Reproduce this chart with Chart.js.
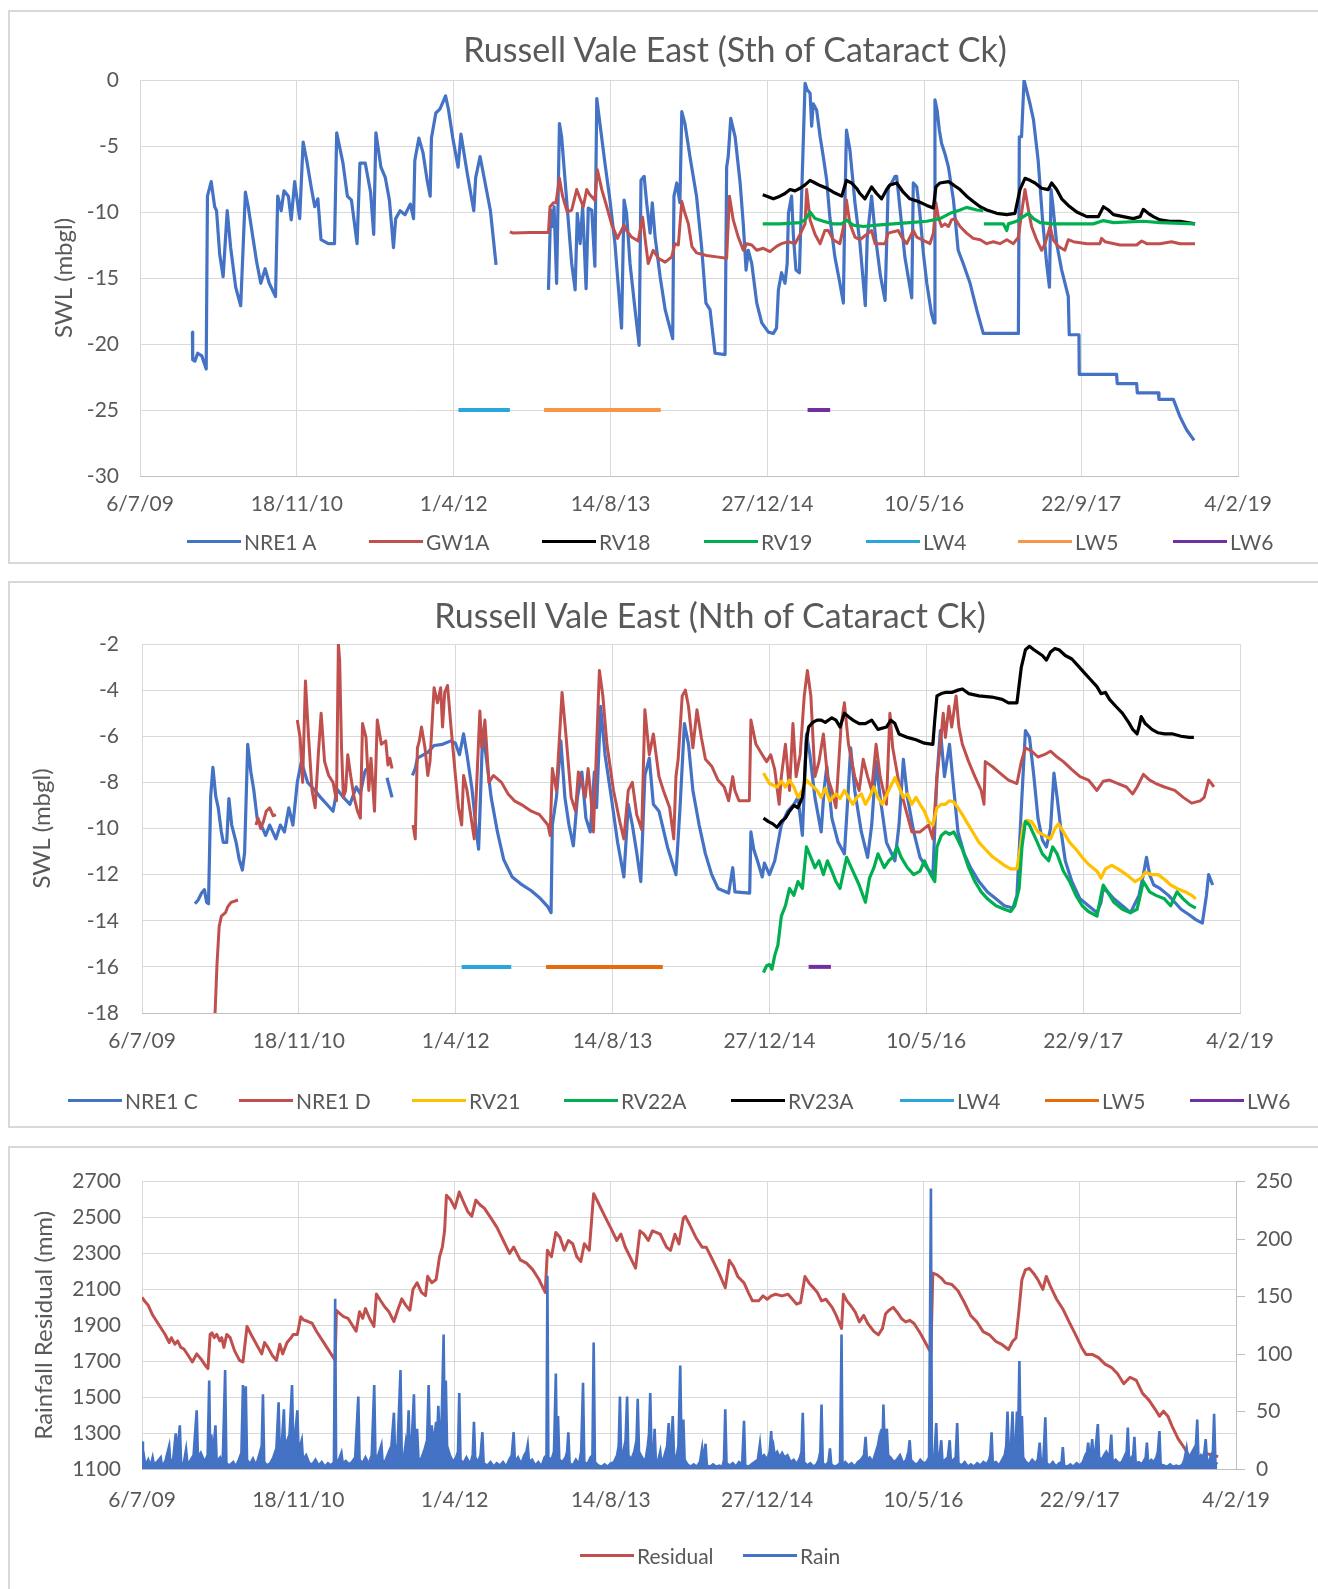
<!DOCTYPE html>
<html><head><meta charset="utf-8">
<script src="https://cdn.jsdelivr.net/npm/chart.js@4.4.1/dist/chart.umd.min.js"></script>
<style>
html,body{margin:0;padding:0;background:#fff;}
body{width:1318px;height:1589px;position:relative;overflow:hidden;font-family:Lato,'Open Sans',sans-serif;color:#595959;}
.box{position:absolute;border:2px solid #d9d9d9;box-sizing:border-box;background:#fff;}
canvas{position:absolute;left:0;}
.title{position:absolute;transform:translate(-50%,-50%);white-space:nowrap;font-size:34px;color:#595959;}
.leg{position:absolute;display:flex;align-items:center;height:24px;font-size:21px;white-space:nowrap;color:#595959;}
.leg i{display:inline-block;width:54px;height:3px;margin-right:3px;}
</style></head><body>
<div class="box" style="left:8px;top:10px;width:1400px;height:554px"></div>
<div class="box" style="left:8px;top:581px;width:1400px;height:547px"></div>
<div class="box" style="left:8px;top:1146px;width:1400px;height:500px"></div>
<canvas id="c1" width="1318" height="560" style="top:0px"></canvas>
<canvas id="c2" width="1318" height="540" style="top:583px"></canvas>
<canvas id="c3" width="1318" height="441" style="top:1148px"></canvas>
<div class="title" style="left:735px;top:48px">Russell Vale East (Sth of Cataract Ck)</div>
<div class="title" style="left:710px;top:614px">Russell Vale East (Nth of Cataract Ck)</div>
<div id="legends"></div>
<script>
// ---------- axes / tick labels ----------
const X_TICKS = [40000,40500,41000,41500,42000,42500,43000,43500];
const X_TICK_LABELS = ['6/7/09','18/11/10','1/4/12','14/8/13','27/12/14','10/5/16','22/9/17','4/2/19'];
const Y1_RANGE = [-30, 0, 5];
const Y2_RANGE = [-18, -2, 2];
const Y3_RANGE = [1100, 2700, 200];
const Y3R_RANGE = [0, 250, 50];

// ---------- Panel 1 : Sth of Cataract Ck  [Excel day serial, SWL mbgl] ----------
const NRE1A = [[40167,-19.1],[40168,-21.2],[40175,-21.3],[40184,-20.7],[40197,-20.9],[40211,-21.9],[40215,-8.8],[40227,-7.7],[40238,-9.6],[40244,-9.9],[40254,-13.2],[40265,-14.9],[40278,-9.9],[40289,-12.7],[40305,-15.7],[40321,-17.1],[40336,-8.5],[40345,-9.6],[40359,-11.8],[40372,-13.8],[40385,-15.4],[40399,-14.3],[40412,-15.4],[40432,-16.4],[40439,-8.8],[40450,-9.9],[40459,-8.4],[40473,-8.8],[40482,-10.6],[40493,-7.7],[40509,-10.5],[40520,-4.7],[40533,-6.3],[40547,-8.3],[40557,-9.6],[40567,-9.0],[40577,-12.1],[40600,-12.4],[40620,-12.4],[40627,-4.0],[40647,-6.3],[40661,-8.8],[40674,-9.1],[40692,-12.4],[40701,-6.3],[40718,-6.3],[40735,-8.5],[40745,-11.7],[40752,-4.0],[40768,-6.6],[40782,-7.4],[40795,-9.1],[40808,-12.7],[40815,-10.5],[40829,-9.9],[40845,-10.2],[40862,-9.4],[40872,-10.5],[40876,-6.1],[40889,-4.4],[40902,-5.5],[40916,-7.7],[40925,-8.8],[40929,-4.4],[40943,-2.5],[40956,-2.2],[40966,-1.65],[40974,-1.2],[40983,-2.2],[40997,-4.4],[41014,-6.6],[41023,-4.1],[41044,-7.2],[41064,-9.9],[41070,-7.4],[41084,-5.8],[41097,-7.4],[41117,-9.9],[41135,-14.0],[41200,null],
[41302,-15.9],[41309,-9.85],[41315,-11.1],[41320,-9.6],[41328,-15.4],[41337,-3.3],[41344,-4.3],[41355,-7.6],[41365,-10.6],[41376,-13.9],[41387,-15.9],[41394,-10.1],[41403,-12.4],[41411,-9.6],[41422,-15.8],[41429,-9.7],[41440,-9.85],[41450,-14.1],[41456,-1.4],[41466,-3.3],[41482,-6.3],[41498,-9.1],[41514,-12.4],[41535,-18.8],[41543,-9.1],[41551,-10.1],[41562,-13.9],[41578,-17.4],[41591,-20.1],[41597,-7.6],[41607,-7.3],[41615,-9.3],[41626,-11.6],[41633,-9.3],[41642,-11.9],[41658,-14.9],[41674,-17.4],[41698,-19.6],[41702,-8.8],[41711,-7.8],[41721,-9.3],[41727,-2.4],[41737,-3.3],[41753,-5.8],[41774,-8.8],[41790,-12.6],[41804,-16.9],[41817,-17.4],[41833,-20.7],[41865,-20.8],[41870,-6.6],[41875,-5.8],[41883,-2.9],[41897,-4.3],[41913,-7.8],[41923,-10.9],[41932,-14.4],[41939,-12.9],[41950,-13.9],[41966,-16.9],[41982,-18.4],[42003,-19.1],[42019,-19.2],[42029,-18.8],[42035,-15.9],[42045,-14.6],[42056,-15.4],[42063,-13.9],[42067,-10.1],[42077,-8.8],[42083,-11.9],[42091,-14.4],[42102,-14.6],[42109,-8.8],[42120,-0.25],[42127,-0.75],[42136,-1.0],[42141,-3.5],[42146,-1.8],[42157,-2.3],[42168,-4.3],[42178,-5.8],[42189,-7.6],[42199,-10.4],[42215,-13.4],[42231,-15.4],[42242,-16.9],[42247,-9.3],[42252,-3.8],[42263,-5.3],[42279,-9.3],[42295,-12.4],[42312,-17.1],[42318,-12.0],[42332,-8.8],[42345,-12.0],[42360,-14.8],[42375,-16.7],[42385,-8.1],[42396,-7.8],[42407,-7.3],[42412,-7.3],[42423,-9.85],[42438,-13.4],[42460,-16.5],[42465,-7.8],[42476,-8.1],[42486,-10.1],[42497,-13.1],[42508,-15.4],[42523,-17.7],[42531,-18.4],[42534,-1.5],[42541,-2.3],[42548,-3.8],[42555,-4.8],[42566,-5.6],[42577,-6.6],[42593,-9.1],[42608,-12.9],[42624,-13.9],[42646,-15.4],[42667,-17.4],[42688,-19.2],[42800,-19.2],[42803,-4.3],[42810,-4.3],[42818,0],[42826,-0.75],[42837,-1.8],[42848,-3.0],[42863,-6.1],[42877,-10.6],[42890,-13.9],[42899,-15.7],[42904,-8.3],[42909,-9.3],[42922,-12.4],[42938,-14.4],[42959,-16.4],[42962,-19.3],[42993,-19.3],[42994,-22.3],[43113,-22.3],[43115,-23.0],[43177,-23.0],[43179,-23.7],[43246,-23.7],[43248,-24.2],[43294,-24.2],[43315,-25.5],[43336,-26.5],[43360,-27.3]];

const GW1A = [[41179,-11.5],[41190,-11.6],[41243,-11.55],[41302,-11.55],[41307,-9.6],[41318,-9.3],[41326,-9.3],[41337,-7.45],[41347,-8.8],[41362,-10.0],[41376,-9.85],[41392,-8.3],[41403,-9.0],[41413,-9.6],[41424,-8.3],[41434,-8.7],[41450,-9.1],[41458,-6.8],[41472,-8.3],[41488,-9.6],[41503,-10.9],[41522,-12.0],[41530,-11.6],[41543,-11.0],[41551,-11.4],[41567,-11.9],[41588,-12.2],[41602,-10.4],[41612,-12.4],[41620,-13.9],[41636,-12.9],[41652,-13.5],[41674,-13.8],[41695,-13.4],[41705,-12.4],[41716,-12.5],[41727,-9.2],[41737,-10.1],[41748,-10.9],[41759,-12.6],[41774,-13.1],[41806,-13.3],[41838,-13.4],[41870,-13.5],[41879,-8.8],[41891,-10.6],[41907,-11.9],[41923,-12.9],[41934,-12.4],[41950,-12.5],[41966,-12.9],[41987,-12.75],[42008,-13.0],[42029,-12.6],[42045,-12.4],[42067,-12.25],[42088,-12.4],[42104,-11.7],[42120,-10.9],[42125,-8.3],[42136,-10.6],[42152,-11.7],[42168,-12.4],[42183,-11.4],[42194,-11.4],[42210,-12.1],[42231,-12.4],[42247,-10.6],[42252,-9.1],[42263,-10.9],[42279,-11.9],[42295,-12.1],[42316,-11.7],[42332,-11.4],[42343,-12.4],[42375,-12.4],[42385,-11.6],[42417,-11.4],[42428,-11.9],[42444,-12.4],[42465,-11.4],[42476,-11.9],[42492,-12.1],[42518,-12.4],[42529,-11.6],[42537,-9.3],[42545,-10.4],[42555,-11.1],[42566,-10.9],[42577,-11.1],[42587,-10.6],[42598,-10.5],[42614,-11.1],[42635,-11.6],[42656,-12.0],[42678,-12.1],[42699,-12.4],[42720,-12.25],[42741,-12.4],[42763,-12.1],[42784,-12.4],[42800,-11.9],[42810,-10.1],[42821,-8.3],[42832,-9.85],[42842,-11.1],[42858,-12.1],[42874,-12.9],[42885,-12.4],[42901,-11.1],[42911,-12.1],[42927,-12.6],[42948,-12.9],[42959,-12.1],[42975,-12.25],[43018,-12.4],[43060,-12.4],[43065,-12.0],[43076,-12.25],[43124,-12.5],[43177,-12.5],[43193,-12.2],[43209,-12.4],[43251,-12.4],[43288,-12.25],[43315,-12.4],[43363,-12.4]];

const RV18 = [[41985,-8.7],[41998,-8.8],[42019,-9.0],[42040,-8.8],[42056,-8.6],[42072,-8.3],[42088,-8.4],[42104,-8.2],[42120,-7.95],[42136,-7.6],[42152,-7.8],[42168,-8.0],[42189,-8.2],[42210,-8.5],[42237,-8.8],[42252,-7.6],[42268,-7.8],[42284,-8.2],[42295,-8.6],[42311,-9.0],[42332,-8.1],[42348,-8.6],[42364,-9.0],[42380,-8.3],[42391,-7.95],[42412,-7.8],[42433,-8.5],[42454,-9.0],[42481,-9.2],[42508,-9.5],[42529,-9.7],[42537,-8.1],[42550,-7.8],[42577,-7.7],[42593,-7.95],[42614,-8.3],[42635,-8.8],[42656,-9.2],[42678,-9.6],[42699,-9.85],[42731,-10.1],[42763,-10.2],[42789,-10.1],[42805,-8.3],[42821,-7.45],[42837,-7.6],[42853,-7.8],[42874,-8.2],[42895,-8.3],[42906,-7.8],[42922,-8.3],[42938,-9.0],[42959,-9.5],[42986,-10.0],[43018,-10.35],[43055,-10.35],[43071,-9.6],[43087,-9.85],[43103,-10.2],[43134,-10.35],[43166,-10.5],[43188,-10.35],[43198,-9.8],[43214,-10.1],[43230,-10.35],[43251,-10.6],[43283,-10.7],[43315,-10.7],[43363,-10.9]];

const RV19 = [[41985,-10.9],[42040,-10.9],[42104,-10.8],[42120,-10.6],[42136,-10.0],[42152,-10.5],[42178,-10.7],[42210,-10.9],[42237,-10.9],[42252,-10.6],[42274,-11.0],[42306,-11.1],[42348,-11.0],[42401,-10.9],[42454,-10.8],[42508,-10.7],[42550,-10.5],[42582,-10.1],[42614,-9.85],[42635,-9.65],[42667,-9.85],[42688,-9.9],[42689,null],[42690,-10.9],[42752,-10.9],[42763,-11.4],[42768,-10.9],[42794,-10.7],[42816,-10.35],[42832,-10.1],[42848,-10.5],[42869,-10.8],[42911,-10.9],[42986,-10.9],[43039,-10.9],[43071,-10.65],[43103,-10.8],[43198,-10.7],[43251,-10.8],[43363,-10.9]];

const LW4_S = [[41015,-25],[41179,-25]];
const LW5_S = [[41288,-25],[41660,-25]];
const LW6_S = [[42128,-25],[42200,-25]];

// ---------- Panel 2 : Nth of Cataract Ck ----------
const NRE1C = [[40169,-13.26],[40179,-13.1],[40190,-12.8],[40199,-12.65],[40206,-13.2],[40212,-13.26],[40219,-8.6],[40226,-7.35],[40235,-8.6],[40243,-9.1],[40253,-10.15],[40259,-10.6],[40270,-10.6],[40277,-8.7],[40286,-9.85],[40300,-10.6],[40310,-11.35],[40320,-11.8],[40327,-11.05],[40337,-6.35],[40347,-7.55],[40356,-8.3],[40367,-9.55],[40380,-9.85],[40394,-10.3],[40407,-9.85],[40427,-10.45],[40441,-9.85],[40454,-10.15],[40468,-9.1],[40481,-9.85],[40495,-8.0],[40508,-7.1],[40528,-8.0],[40548,-8.3],[40569,-8.65],[40589,-8.95],[40609,-9.25],[40622,-8.3],[40642,-8.65],[40663,-8.95],[40683,-8.2],[40696,-8.5],[40710,-7.55],[40716,-7.4],[40740,null],[40781,-7.8],[40797,-8.65],[40830,null],
[40862,-7.7],[40871,-7.4],[40878,-6.95],[40898,-6.8],[40911,-6.7],[40931,-6.4],[40958,-6.35],[40985,-6.2],[40999,-6.3],[41012,-6.8],[41025,-5.9],[41036,-6.8],[41052,-8.3],[41066,-10.15],[41073,-10.9],[41079,-8.65],[41086,-5.75],[41099,-7.1],[41113,-8.65],[41133,-10.15],[41153,-11.35],[41180,-12.1],[41207,-12.4],[41241,-12.7],[41267,-13.0],[41294,-13.4],[41304,-13.65],[41308,-9.85],[41321,-8.65],[41335,-6.2],[41348,-8.65],[41361,-9.85],[41375,-10.75],[41388,-8.65],[41402,-7.55],[41415,-9.55],[41429,-10.15],[41442,-7.55],[41449,-9.1],[41462,-4.7],[41476,-6.8],[41496,-8.65],[41516,-10.6],[41536,-12.1],[41550,-8.95],[41563,-9.85],[41577,-11.05],[41590,-12.3],[41603,-7.7],[41617,-6.95],[41630,-8.95],
[41648,-9.25],[41675,-10.8],[41702,-12.0],[41715,-9.1],[41729,-5.45],[41742,-6.35],[41756,-8.35],[41776,-9.85],[41796,-11.1],[41816,-12.0],[41836,-12.6],[41870,-12.8],[41883,-11.7],[41890,-12.75],[41937,-12.8],[41941,-10.15],[41950,-10.9],[41964,-11.5],[41977,-12.1],[41984,-11.5],[42000,-12.0],[42017,-11.4],[42038,-9.85],[42058,-9.25],[42078,-8.95],[42091,-8.65],[42105,-10.3],[42118,-5.9],[42129,-6.8],[42145,-8.65],[42165,-10.15],[42174,-8.35],[42183,-7.3],[42199,-9.55],[42219,-10.6],[42239,-11.1],[42250,-8.65],[42259,-6.5],[42272,-8.35],[42293,-10.15],[42313,-11.25],[42326,-9.85],[42340,-7.1],[42353,-8.65],[42373,-10.6],[42400,-11.4],[42413,-9.85],[42427,-7.0],[42440,-8.65],[42460,-10.15],[42480,-11.25],[42501,-11.7],[42521,-12.0],[42534,-7.75],[42545,-5.75],[42558,-7.75],[42574,-6.35],[42588,-8.35],[42601,-10.15],[42621,-11.1],[42641,-11.7],[42668,-12.3],[42695,-12.75],[42722,-13.05],[42749,-13.35],[42776,-13.45],[42789,-12.9],[42803,-9.1],[42816,-5.75],[42829,-6.05],[42843,-7.75],[42856,-9.55],[42870,-10.5],[42883,-10.8],[42896,-10.0],[42907,-7.6],[42917,-8.65],[42930,-10.15],[42943,-11.4],[42964,-12.3],[42990,-13.05],[43017,-13.35],[43044,-13.65],[43057,-13.2],[43064,-12.6],[43078,-12.75],[43098,-13.05],[43125,-13.35],[43151,-13.65],[43178,-12.9],[43192,-12.0],[43202,-11.25],[43212,-12.0],[43225,-12.45],[43245,-12.6],[43272,-12.9],[43292,-13.2],[43312,-13.5],[43339,-13.75],[43359,-13.95],[43380,-14.1],[43393,-12.9],[43400,-12.0],[43413,-12.45]];

const NRE1D = [[40230,-19.0],[40239,-15.9],[40246,-14.25],[40253,-13.8],[40266,-13.65],[40273,-13.4],[40284,-13.2],[40306,-13.1],[40330,null],
[40363,-9.85],[40370,-9.55],[40378,-10.0],[40387,-9.7],[40396,-9.25],[40407,-9.1],[40418,-9.45],[40427,-9.4],[40460,null],
[40495,-5.3],[40504,-6.05],[40512,-8.0],[40521,-3.6],[40531,-6.05],[40542,-8.35],[40552,-9.1],[40562,-6.8],[40571,-5.0],[40582,-7.1],[40595,-7.7],[40609,-8.0],[40620,-8.8],[40626,-2.0],[40630,-2.7],[40636,-6.5],[40642,-8.65],[40649,-8.35],[40656,-6.8],[40665,-7.7],[40676,-8.65],[40687,-9.25],[40696,-9.55],[40703,-5.45],[40714,-6.05],[40723,-8.35],[40730,-6.95],[40741,-9.25],[40750,-5.3],[40763,-6.35],[40777,-6.2],[40784,-7.25],[40790,-6.95],[40797,-7.4],[40830,null],
[40864,-9.85],[40871,-10.45],[40878,-6.5],[40884,-6.2],[40891,-5.6],[40902,-6.5],[40911,-7.7],[40918,-7.1],[40931,-3.9],[40942,-4.55],[40952,-3.9],[40958,-5.6],[40965,-4.1],[40974,-3.8],[40985,-5.6],[40999,-7.7],[41009,-9.1],[41019,-9.85],[41025,-7.7],[41036,-8.35],[41046,-9.25],[41059,-10.45],[41066,-8.35],[41077,-4.9],[41083,-6.5],[41093,-5.3],[41106,-8.0],[41120,-7.7],[41133,-7.85],[41146,-8.0],[41167,-8.5],[41187,-8.8],[41214,-9.0],[41241,-9.25],[41267,-9.4],[41294,-9.85],[41301,-10.3],[41308,-7.4],[41321,-8.35],[41339,-4.1],[41352,-6.05],[41368,-8.65],[41382,-9.25],[41391,-7.55],[41402,-8.0],[41413,-8.65],[41422,-7.4],[41431,-8.65],[41439,-10.15],[41458,-3.15],[41469,-4.25],[41482,-6.35],[41503,-8.35],[41523,-9.7],[41536,-10.45],[41550,-8.35],[41563,-8.0],[41577,-9.4],[41593,-10.05],[41603,-4.85],[41617,-6.8],[41630,-5.9],
[41648,-7.75],[41662,-8.35],[41682,-9.1],[41695,-10.45],[41702,-7.75],[41709,-7.0],[41722,-4.25],[41732,-4.0],[41742,-4.7],[41756,-6.5],[41769,-4.85],[41783,-6.05],[41796,-7.0],[41816,-7.3],[41836,-7.9],[41856,-8.2],[41870,-8.8],[41883,-7.75],[41890,-8.35],[41903,-8.8],[41936,-8.8],[41941,-5.3],[41957,-6.35],[41977,-6.8],[41991,-7.1],[42004,-6.8],[42017,-7.45],[42031,-8.95],[42038,-7.75],[42051,-6.35],[42064,-8.35],[42075,-5.45],[42085,-7.75],[42098,-6.8],[42111,-4.25],[42121,-3.15],[42132,-4.25],[42145,-7.75],[42158,-7.1],[42172,-5.9],[42185,-7.75],[42199,-8.35],[42212,-9.1],[42228,-5.6],[42239,-4.55],[42252,-6.35],[42272,-7.75],[42286,-8.35],[42299,-7.0],[42313,-7.75],[42326,-8.35],[42340,-6.35],[42353,-7.75],[42373,-8.95],[42384,-5.0],[42393,-6.5],[42413,-8.05],[42433,-9.1],[42454,-10.15],[42480,-10.15],[42507,-9.85],[42521,-10.45],[42534,-7.75],[42545,-6.35],[42554,-5.0],[42561,-6.05],[42572,-4.7],[42581,-5.6],[42595,-4.25],[42604,-5.6],[42615,-6.35],[42635,-7.1],[42655,-7.75],[42675,-8.35],[42684,-8.95],[42688,-7.1],[42709,-7.3],[42735,-7.6],[42762,-7.9],[42789,-8.05],[42803,-7.1],[42816,-6.5],[42836,-6.65],[42856,-6.9],[42876,-6.8],[42896,-6.65],[42917,-6.9],[42937,-7.1],[42964,-7.45],[42990,-7.75],[43017,-7.9],[43044,-8.35],[43064,-7.95],[43084,-7.9],[43111,-8.05],[43138,-8.2],[43158,-8.5],[43172,-8.2],[43192,-7.65],[43212,-7.9],[43232,-8.05],[43259,-8.2],[43292,-8.35],[43319,-8.65],[43346,-8.9],[43373,-8.8],[43386,-8.65],[43400,-7.9],[43409,-8.05],[43417,-8.2]];

const RV21 = [[41981,-7.6],[42000,-8.05],[42024,-8.2],[42038,-7.95],[42051,-8.2],[42064,-7.9],[42078,-8.2],[42091,-8.65],[42105,-8.35],[42118,-7.9],[42132,-8.1],[42152,-8.35],[42165,-8.65],[42178,-8.25],[42192,-8.8],[42212,-8.5],[42225,-8.7],[42239,-8.35],[42252,-8.65],[42266,-8.95],[42279,-8.65],[42293,-8.5],[42306,-8.95],[42319,-8.65],[42333,-8.2],[42346,-8.65],[42360,-8.95],[42380,-8.35],[42400,-7.8],[42413,-8.2],[42427,-8.65],[42440,-8.5],[42454,-8.95],[42467,-8.65],[42480,-8.95],[42494,-9.25],[42507,-9.7],[42521,-9.85],[42534,-9.1],[42548,-8.95],[42561,-8.95],[42574,-8.8],[42588,-8.85],[42601,-9.1],[42615,-9.4],[42628,-9.7],[42648,-10.15],[42668,-10.6],[42688,-10.9],[42709,-11.2],[42729,-11.4],[42749,-11.6],[42769,-11.75],[42789,-11.75],[42800,-10.8],[42809,-9.85],[42819,-9.65],[42836,-9.7],[42856,-10.15],[42876,-10.3],[42896,-10.45],[42910,-10.0],[42921,-9.8],[42937,-10.15],[42957,-10.6],[42977,-10.9],[42997,-11.25],[43017,-11.55],[43044,-11.85],[43057,-12.15],[43071,-11.75],[43091,-11.6],[43111,-11.75],[43138,-12.0],[43165,-12.3],[43185,-12.15],[43198,-11.9],[43219,-12.0],[43239,-12.0],[43259,-12.2],[43279,-12.45],[43299,-12.6],[43326,-12.75],[43346,-12.9],[43359,-13.05]];

const RV22A = [[41981,-16.25],[41991,-15.95],[42000,-15.9],[42008,-16.1],[42017,-15.5],[42027,-15.05],[42038,-13.8],[42051,-13.35],[42064,-12.6],[42078,-12.9],[42091,-12.3],[42105,-12.6],[42118,-10.8],[42132,-11.25],[42145,-11.7],[42158,-11.4],[42172,-12.0],[42185,-11.4],[42199,-11.85],[42212,-12.3],[42225,-12.6],[42246,-11.25],[42266,-11.85],[42286,-12.45],[42306,-13.2],[42319,-12.15],[42333,-11.7],[42346,-11.1],[42366,-11.7],[42380,-11.4],[42393,-11.25],[42407,-10.8],[42420,-11.25],[42440,-11.7],[42460,-12.0],[42480,-11.85],[42494,-11.4],[42514,-12.0],[42527,-12.3],[42534,-10.8],[42548,-10.3],[42561,-10.15],[42574,-10.25],[42588,-10.15],[42601,-10.5],[42615,-10.9],[42635,-11.7],[42655,-12.3],[42675,-12.75],[42695,-13.05],[42722,-13.35],[42749,-13.5],[42769,-13.6],[42782,-13.35],[42796,-12.6],[42805,-10.8],[42816,-9.7],[42829,-9.85],[42849,-10.45],[42870,-11.1],[42890,-11.4],[42903,-10.8],[42917,-11.1],[42937,-11.85],[42957,-12.3],[42977,-12.9],[42997,-13.35],[43017,-13.6],[43044,-13.8],[43057,-12.9],[43064,-12.45],[43078,-12.75],[43098,-13.2],[43125,-13.5],[43151,-13.65],[43172,-13.5],[43192,-12.3],[43212,-12.75],[43232,-12.9],[43259,-13.05],[43279,-13.35],[43299,-12.75],[43319,-13.05],[43339,-13.3],[43359,-13.45]];

const RV23A = [[41981,-9.55],[41997,-9.7],[42011,-9.8],[42024,-9.95],[42038,-9.7],[42051,-9.55],[42064,-9.25],[42078,-9.0],[42091,-9.1],[42105,-8.65],[42111,-8.05],[42118,-6.2],[42125,-5.6],[42138,-5.4],[42152,-5.3],[42165,-5.3],[42178,-5.4],[42199,-5.2],[42212,-5.3],[42225,-5.6],[42239,-5.0],[42252,-5.15],[42266,-5.3],[42286,-5.45],[42306,-5.45],[42326,-5.3],[42346,-5.7],[42373,-5.6],[42387,-5.3],[42400,-5.45],[42413,-5.9],[42440,-6.05],[42467,-6.15],[42494,-6.3],[42521,-6.35],[42527,-5.3],[42534,-4.25],[42548,-4.15],[42561,-4.1],[42581,-4.1],[42601,-4.0],[42615,-3.95],[42635,-4.15],[42668,-4.25],[42709,-4.3],[42742,-4.4],[42762,-4.55],[42789,-4.55],[42803,-3.0],[42816,-2.25],[42829,-2.1],[42843,-2.25],[42870,-2.5],[42883,-2.7],[42896,-2.35],[42910,-2.2],[42923,-2.25],[42943,-2.5],[42964,-2.65],[42984,-2.95],[43004,-3.25],[43024,-3.55],[43044,-3.85],[43057,-4.15],[43071,-4.1],[43084,-4.4],[43104,-4.7],[43125,-5.0],[43145,-5.4],[43158,-5.7],[43172,-5.9],[43178,-5.6],[43185,-5.15],[43198,-5.45],[43219,-5.7],[43239,-5.85],[43259,-5.9],[43286,-5.9],[43312,-6.0],[43339,-6.05],[43353,-6.05]];

const LW4_N = [[41019,-16],[41177,-16]];
const LW5_N = [[41288,-16],[41660,-16]];
const LW6_N = [[42125,-16],[42196,-16]];

// ---------- Panel 3 : rainfall residual (mm, left) and rain (mm, right) ----------
const RESIDUAL = [[40000,2056],[40007,2038],[40020,2011],[40034,1957],[40054,1903],[40074,1849],[40087,1804],[40094,1831],[40105,1795],[40114,1813],[40124,1777],[40134,1768],[40148,1732],[40161,1696],[40175,1741],[40188,1714],[40202,1678],[40211,1659],[40218,1849],[40224,1858],[40231,1831],[40239,1849],[40249,1813],[40255,1831],[40262,1777],[40271,1849],[40282,1831],[40296,1759],[40312,1705],[40323,1696],[40336,1894],[40349,1849],[40366,1795],[40383,1741],[40392,1804],[40403,1777],[40417,1732],[40430,1705],[40441,1795],[40450,1741],[40464,1804],[40477,1831],[40484,1849],[40497,1849],[40508,1948],[40517,1930],[40531,1921],[40544,1912],[40558,1867],[40578,1813],[40598,1759],[40618,1705],[40622,1984],[40632,1966],[40645,1948],[40659,1939],[40672,1903],[40685,1867],[40696,1975],[40706,1939],[40715,1993],[40728,1939],[40742,1894],[40750,2074],[40763,2038],[40777,2002],[40790,1975],[40806,1921],[40820,1993],[40831,2047],[40844,2011],[40857,1984],[40867,2101],[40880,2137],[40894,2083],[40907,2065],[40914,2173],[40927,2137],[40941,2155],[40952,2282],[40961,2336],[40968,2426],[40974,2624],[40988,2597],[41001,2552],[41015,2642],[41028,2588],[41042,2534],[41055,2507],[41068,2597],[41082,2570],[41095,2552],[41116,2498],[41136,2444],[41156,2372],[41176,2300],[41189,2336],[41210,2264],[41230,2246],[41250,2210],[41270,2155],[41290,2083],[41297,2318],[41310,2282],[41324,2417],[41337,2390],[41351,2318],[41364,2372],[41378,2354],[41391,2282],[41404,2255],[41415,2354],[41431,2318],[41445,2633],[41458,2588],[41478,2516],[41499,2444],[41519,2372],[41532,2408],[41546,2336],[41566,2264],[41579,2218],[41593,2426],[41606,2408],[41620,2372],[41633,2426],[41658,2407],[41678,2335],[41691,2317],[41705,2407],[41718,2353],[41732,2497],[41738,2507],[41752,2461],[41772,2389],[41792,2335],[41805,2335],[41826,2262],[41846,2190],[41866,2109],[41879,2262],[41893,2226],[41906,2172],[41926,2136],[41940,2082],[41953,2036],[41973,2036],[41987,2064],[42000,2045],[42013,2064],[42027,2073],[42047,2064],[42067,2073],[42081,2045],[42094,2018],[42107,2027],[42121,2172],[42134,2136],[42148,2109],[42161,2082],[42174,2036],[42188,2045],[42208,2000],[42221,1955],[42238,1883],[42244,2073],[42255,2036],[42268,2009],[42282,1973],[42295,1919],[42309,1955],[42322,1910],[42342,1865],[42356,1847],[42369,1883],[42379,1964],[42389,1982],[42403,2000],[42416,1973],[42430,1937],[42443,1919],[42456,1928],[42470,1910],[42490,1856],[42510,1792],[42524,1747],[42530,2190],[42544,2181],[42557,2163],[42570,2136],[42591,2127],[42611,2091],[42631,2027],[42651,1955],[42671,1919],[42691,1865],[42711,1847],[42732,1810],[42752,1792],[42772,1765],[42785,1810],[42796,1829],[42805,1973],[42815,2154],[42826,2208],[42839,2217],[42852,2190],[42866,2154],[42882,2100],[42893,2172],[42906,2118],[42926,2045],[42946,1991],[42966,1919],[42987,1847],[43007,1774],[43020,1738],[43040,1738],[43060,1720],[43081,1684],[43101,1666],[43121,1630],[43141,1575],[43161,1611],[43181,1593],[43201,1521],[43221,1485],[43242,1431],[43255,1394],[43268,1422],[43282,1394],[43295,1340],[43315,1268],[43336,1214],[43356,1151],[43369,1114],[43383,1141],[43403,1187],[43423,1178],[43443,1169]];

const RAIN = [[40000,24],[40003,5],[40007,10],[40011,3],[40020,8],[40027,2],[40034,10],[40038,4],[40048,6],[40060,10],[40064,2],[40075,7],[40087,20],[40091,5],[40100,9],[40108,31],[40113,12],[40121,38],[40125,6],[40133,4],[40141,17],[40146,3],[40156,8],[40165,12],[40175,51],[40179,10],[40188,14],[40200,6],[40210,12],[40215,77],[40218,15],[40222,30],[40226,8],[40235,38],[40239,6],[40250,10],[40258,4],[40266,86],[40270,5],[40280,3],[40292,6],[40300,2],[40310,8],[40318,14],[40323,73],[40327,20],[40332,72],[40336,8],[40345,4],[40355,9],[40365,3],[40375,12],[40383,20],[40387,65],[40391,6],[40400,3],[40410,5],[40420,10],[40430,18],[40437,58],[40441,12],[40447,20],[40454,52],[40458,10],[40465,25],[40472,30],[40480,73],[40484,20],[40490,30],[40497,51],[40501,15],[40511,25],[40515,8],[40525,12],[40535,5],[40545,4],[40555,8],[40565,3],[40575,6],[40585,2],[40595,5],[40605,3],[40614,6],[40618,148],[40621,6],[40630,8],[40638,14],[40642,5],[40652,7],[40662,4],[40672,6],[40682,10],[40692,63],[40696,8],[40705,5],[40715,10],[40725,4],[40735,12],[40743,73],[40747,8],[40756,12],[40766,21],[40770,5],[40780,8],[40790,15],[40798,20],[40806,49],[40810,10],[40818,22],[40827,86],[40831,12],[40838,10],[40844,23],[40848,15],[40853,51],[40857,10],[40863,25],[40870,65],[40874,12],[40880,35],[40885,6],[40895,10],[40905,18],[40912,25],[40917,73],[40921,25],[40927,38],[40932,20],[40941,41],[40944,25],[40948,55],[40952,30],[40958,35],[40965,117],[40968,40],[40972,77],[40976,20],[40985,12],[40995,6],[41005,10],[41011,15],[41015,66],[41019,8],[41028,5],[41038,10],[41050,4],[41058,12],[41062,41],[41066,10],[41075,6],[41083,12],[41089,32],[41093,5],[41105,3],[41115,6],[41125,2],[41135,5],[41145,3],[41155,6],[41165,2],[41175,8],[41183,12],[41189,32],[41193,6],[41203,10],[41213,4],[41223,12],[41230,15],[41234,21],[41238,6],[41248,8],[41258,3],[41268,6],[41278,2],[41288,10],[41294,12],[41297,168],[41300,10],[41310,8],[41318,15],[41324,83],[41327,20],[41331,46],[41335,8],[41345,6],[41355,10],[41360,15],[41364,32],[41368,5],[41378,3],[41388,8],[41398,4],[41405,15],[41411,75],[41415,6],[41425,4],[41435,10],[41441,12],[41445,110],[41449,6],[41460,3],[41470,2],[41480,4],[41490,2],[41500,5],[41510,6],[41520,12],[41525,20],[41529,63],[41533,10],[41540,15],[41547,25],[41552,63],[41556,12],[41565,8],[41575,15],[41582,25],[41586,61],[41590,15],[41600,10],[41610,6],[41618,20],[41622,30],[41626,66],[41630,15],[41636,10],[41640,35],[41644,6],[41652,8],[41658,15],[41662,4],[41672,12],[41680,20],[41685,40],[41689,15],[41694,25],[41698,46],[41702,12],[41710,10],[41716,20],[41722,90],[41726,20],[41732,43],[41736,8],[41745,4],[41755,2],[41765,4],[41775,2],[41785,6],[41792,18],[41796,6],[41803,22],[41807,3],[41817,2],[41827,4],[41837,2],[41847,3],[41857,2],[41862,8],[41866,52],[41870,5],[41880,3],[41890,5],[41900,2],[41910,6],[41920,4],[41926,42],[41930,3],[41940,2],[41950,4],[41960,6],[41970,8],[41977,22],[41981,10],[41990,12],[42000,8],[42008,15],[42013,33],[42016,15],[42020,20],[42024,12],[42032,15],[42040,10],[42048,14],[42056,10],[42065,12],[42075,6],[42085,8],[42095,4],[42105,10],[42110,15],[42114,49],[42118,6],[42128,3],[42138,5],[42148,2],[42158,4],[42165,8],[42170,15],[42174,56],[42178,5],[42188,3],[42196,6],[42201,18],[42205,4],[42215,2],[42225,3],[42233,5],[42238,117],[42241,4],[42250,6],[42260,3],[42270,5],[42280,2],[42290,6],[42300,8],[42310,12],[42315,28],[42319,8],[42328,10],[42338,6],[42348,15],[42354,20],[42358,26],[42362,15],[42366,35],[42369,22],[42372,56],[42376,20],[42383,35],[42387,12],[42395,10],[42405,6],[42415,8],[42425,12],[42435,5],[42445,8],[42452,15],[42456,25],[42460,8],[42470,5],[42480,4],[42490,8],[42500,5],[42510,6],[42518,10],[42524,244],[42527,12],[42535,10],[42541,40],[42545,8],[42552,12],[42557,25],[42561,6],[42570,8],[42578,10],[42584,25],[42588,6],[42596,8],[42603,10],[42608,40],[42612,5],[42622,3],[42632,6],[42642,2],[42652,4],[42662,2],[42672,5],[42682,3],[42692,6],[42702,4],[42710,8],[42714,12],[42718,32],[42722,5],[42732,6],[42742,3],[42752,8],[42760,12],[42765,20],[42769,50],[42773,15],[42780,20],[42785,50],[42789,15],[42795,20],[42799,50],[42803,30],[42807,94],[42811,20],[42815,46],[42819,10],[42828,6],[42838,4],[42848,8],[42858,5],[42866,8],[42872,23],[42876,5],[42884,10],[42890,45],[42894,5],[42904,3],[42914,6],[42924,2],[42934,5],[42942,6],[42946,19],[42950,3],[42960,2],[42970,4],[42980,2],[42990,5],[43000,3],[43010,6],[43018,12],[43024,15],[43027,23],[43031,12],[43036,15],[43040,26],[43044,10],[43050,15],[43058,39],[43062,10],[43070,8],[43078,12],[43085,15],[43095,10],[43101,30],[43105,6],[43115,8],[43125,5],[43135,6],[43145,12],[43150,15],[43154,36],[43158,6],[43166,10],[43171,12],[43175,28],[43179,5],[43189,6],[43199,4],[43207,8],[43211,10],[43215,23],[43219,5],[43229,8],[43237,6],[43245,10],[43250,15],[43255,33],[43259,4],[43269,3],[43279,2],[43289,4],[43299,2],[43309,3],[43319,2],[43329,4],[43335,8],[43342,18],[43346,10],[43354,12],[43360,15],[43366,18],[43370,12],[43376,43],[43380,8],[43388,12],[43394,10],[43399,15],[43403,26],[43407,8],[43414,6],[43420,12],[43426,15],[43430,48],[43434,6],[43440,4]];

// ---------- styling ----------
const TXT = '#595959', GRID = '#d9d9d9', AXIS = '#bfbfbf';
const C = {blue:'#4472C4', red:'#C0504D', black:'#000000', green:'#00B050', yellow:'#FFC000', lw4:'#2AA6DC', lw5a:'#F79646', lw5b:'#E46C0A', lw6:'#7030A0'};
Chart.defaults.font.family = "Lato, 'Open Sans', sans-serif";
Chart.defaults.color = TXT;

const toXY = a => a.map(p => ({x:p[0], y:p[1]}));
function series(label, data, color, width, extra) {
  return Object.assign({label, data: toXY(data), borderColor: color, backgroundColor: color, borderWidth: width,
    pointRadius: 0, pointHoverRadius: 0, tension: 0, spanGaps: false, fill: false,
    borderJoinStyle: 'round', borderCapStyle: 'butt'}, extra || {});
}
function xScale(h, pad) {
  return {type:'linear', min: X_TICKS[0], max: X_TICKS[X_TICKS.length-1],
    afterBuildTicks: s => { s.ticks = X_TICKS.map(v => ({value: v})); },
    afterFit: s => { s.height = h; },
    ticks:{autoSkip:false, maxRotation:0, padding:pad, color:TXT, font:{size:21},
      callback: v => { const i = X_TICKS.indexOf(v); return i < 0 ? '' : X_TICK_LABELS[i]; }},
    grid:{color:GRID, lineWidth:1, drawTicks:false},
    border:{display:true, color:AXIS, width:1}};
}
function yScale(range, w, pad, title, titlePad) {
  return {type:'linear', position:'left', min: range[0], max: range[1],
    afterFit: s => { s.width = w; },
    ticks:{stepSize: range[2], padding: pad, color: TXT, font:{size:21}, callback: v => String(v)},
    grid:{color:GRID, lineWidth:1, drawTicks:false}, border:{display:false},
    title:{display:true, text:title, color:TXT, font:{size:24}, padding:{top:titlePad, bottom:0}}};
}
function make(id, datasets, scales, padding) {
  const n = datasets.length;
  datasets.forEach((d, i) => { d.order = n - i; });
  return new Chart(document.getElementById(id), {
    type:'line', data:{datasets},
    options:{responsive:false, animation:false, devicePixelRatio:1, events:[],
      layout:{padding}, plugins:{legend:{display:false}, tooltip:{enabled:false}, title:{display:false}},
      scales}
  });
}

// Panel 1
const P1 = [
  series('NRE1 A', NRE1A, C.blue, 3.2),
  series('GW1A', GW1A, C.red, 3),
  series('RV18', RV18, C.black, 3.2),
  series('RV19', RV19, C.green, 3.2),
  series('LW4', LW4_S, C.lw4, 4),
  series('LW5', LW5_S, C.lw5a, 4),
  series('LW6', LW6_S, C.lw6, 4)
];
make('c1', P1, {x: xScale(84, 16), y: yScale(Y1_RANGE, 140, 21, 'SWL (mbgl)', 50)}, {left:0, right:80, top:80, bottom:0});

// Panel 2
const P2 = [
  series('NRE1 C', NRE1C, C.blue, 3.2),
  series('NRE1 D', NRE1D, C.red, 3),
  series('RV21', RV21, C.yellow, 3.2),
  series('RV22A', RV22A, C.green, 3.2),
  series('RV23A', RV23A, C.black, 3.2),
  series('LW4', LW4_N, C.lw4, 4),
  series('LW5', LW5_N, C.lw5b, 4),
  series('LW6', LW6_N, C.lw6, 4)
];
make('c2', P2, {x: xScale(110, 16), y: yScale(Y2_RANGE, 142, 23, 'SWL (mbgl)', 28)}, {left:0, right:78, top:61, bottom:0});

// Panel 3
const P3 = [
  series('Residual', RESIDUAL, C.red, 3, {yAxisID:'y'}),
  series('Rain', RAIN, C.blue, 2.6, {yAxisID:'y2', fill:'origin', borderJoinStyle:'miter'})
];
const y3 = yScale(Y3_RANGE, 142, 21, 'Rainfall Residual (mm)', 30);
const y3r = {type:'linear', position:'right', min: Y3R_RANGE[0], max: Y3R_RANGE[1],
  afterFit: s => { s.width = 82; },
  ticks:{stepSize: Y3R_RANGE[2], padding: 11, color: TXT, font:{size:21}, callback: v => String(v)},
  grid:{drawOnChartArea:false, drawTicks:true, tickLength:9, color:AXIS, lineWidth:1},
  border:{display:true, color:AXIS, width:1}};
make('c3', P3, {x: xScale(120, 19), y: y3, y2: y3r}, {left:0, right:0, top:28, bottom:0});

// ---------- HTML legends ----------
const LEGENDS = [
  {items: P1, xs:[187,369,542,704,866,1018,1173], y:541},
  {items: P2, xs:[68,239,412,564,731,900,1045,1190], y:1100},
  {items: P3, xs:[580,743], y:1555}
];
const host = document.getElementById('legends');
LEGENDS.forEach(L => {
  L.items.forEach((d, i) => {
    const el = document.createElement('div');
    el.className = 'leg';
    el.style.left = L.xs[i] + 'px';
    el.style.top = (L.y - 12) + 'px';
    const ln = document.createElement('i');
    ln.style.background = d.borderColor;
    el.appendChild(ln);
    el.appendChild(document.createTextNode(d.label));
    host.appendChild(el);
  });
});
</script>
</body></html>
